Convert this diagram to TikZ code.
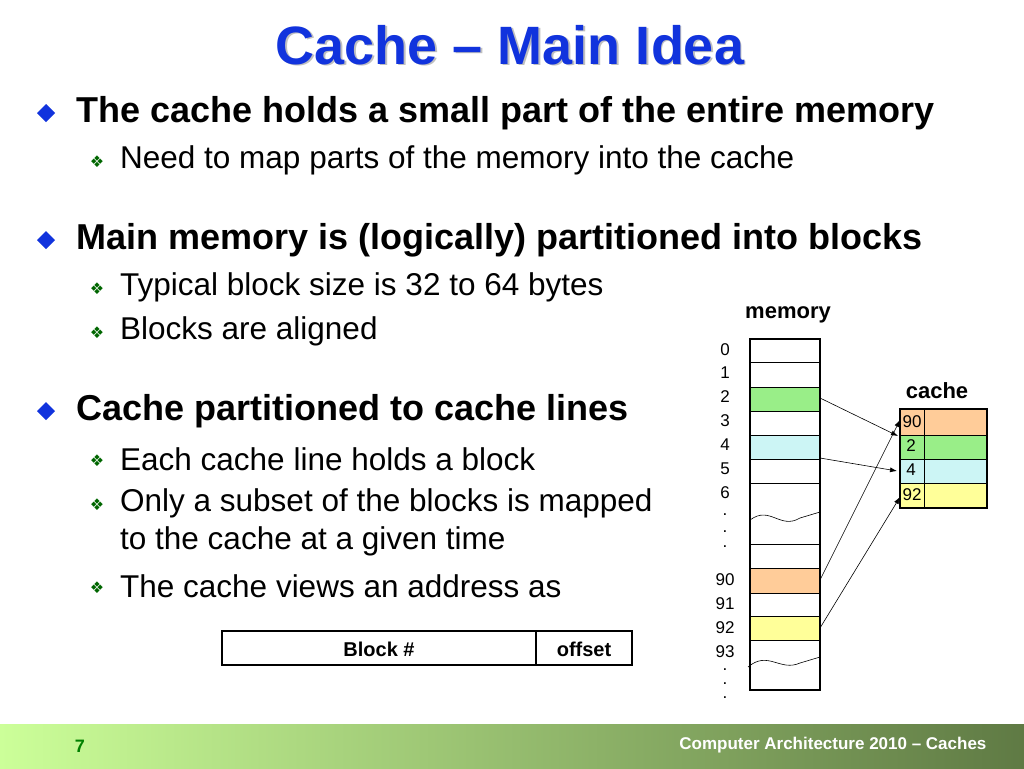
\documentclass[tikz,border=0pt]{standalone}
\usepackage{fontspec}
\usetikzlibrary{arrows.meta}
\setmainfont{Liberation Sans}
\newfontfamily\symfont{DejaVu Sans}
\begin{document}
\begin{tikzpicture}[x=1pt,y=-1pt,
  main/.style={anchor=west,inner sep=0pt,font=\fontsize{36}{38}\selectfont\bfseries},
  sub/.style={anchor=west,inner sep=0pt,font=\fontsize{31.5}{34}\selectfont},
  subb/.style={anchor=center,font=\symfont\fontsize{16}{17}\selectfont,text=green!40!black},
  num/.style={font=\fontsize{17}{18}\selectfont},
  dotn/.style={inner sep=0pt,font=\fontsize{17}{18}\selectfont},
  arr/.style={-{Latex[length=7pt,width=5pt]},line width=0.6pt}]
\useasboundingbox (0,0) rectangle (1024,768);
\definecolor{ora}{HTML}{FFCC99}\definecolor{gre}{HTML}{99EE88}
\definecolor{cya}{HTML}{CCF5F5}\definecolor{yel}{HTML}{FFFF99}
\definecolor{ttl}{HTML}{1133DD}
% title
\node[text=gray!50,font=\fontsize{54}{56}\selectfont\bfseries] at (511.5,46.5) {Cache – Main Idea};
\node[text=ttl,font=\fontsize{54}{56}\selectfont\bfseries] (title) at (510,45) {Cache – Main Idea};
% bullets
\foreach \y/\t in {113/The cache holds a small part of the entire memory,240/Main memory is (logically) partitioned into blocks,411/Cache partitioned to cache lines}{
  \fill[ttl] (46,\y-9) -- (55,\y) -- (46,\y+9) -- (37,\y) -- cycle;
  \node[main] at (76,\y) {\t};}
\foreach \y/\t in {160/Need to map parts of the memory into the cache,287/Typical block size is 32 to 64 bytes,331/Blocks are aligned,459/Each cache line holds a block,503/Only a subset of the blocks is mapped,586/The cache views an address as}{
  \node[subb] at (97,\y+2) {❖};
  \node[sub] at (120,\y) {\t};}
\node[sub] at (120,541) {to the cache at a given time};
% address box
\draw[line width=1.8pt] (222,631) rectangle (632,665);
\draw[line width=1.8pt] (536,631) -- (536,665);
\node[font=\fontsize{20}{22}\selectfont\bfseries] (blk) at (379,649) {Block \#};
\node[font=\fontsize{20}{22}\selectfont\bfseries] (off) at (584,649) {offset};
% memory
\node[font=\fontsize{22}{24}\selectfont\bfseries] (memlbl) at (788,315) {memory};
\fill[gre] (750,387) rectangle (820,411);
\fill[cya] (750,435) rectangle (820,459);
\fill[ora] (750,568) rectangle (820,593);
\fill[yel] (750,616) rectangle (820,640);
\foreach \y in {362,387,411,435,459,483,544,568,593,616,640}{\draw[line width=0.6pt] (750,\y) -- (820,\y);}
\draw[line width=0.6pt] (750,520) .. controls (770,505) and (780,530) .. (800,518) -- (820,512);
\draw[line width=0.6pt] (748,667) .. controls (768,650) and (780,672) .. (800,663) -- (820,657);
\draw[line width=2.2pt] (750,339) rectangle (820,690);
\coordinate (m2) at (820,398);\coordinate (m4) at (820,458);
\coordinate (m90) at (820,580);\coordinate (m92) at (820,628);
\foreach \y/\t in {350/0,373/1,397/2,421/3,445/4,469/5,493/6,580/90,604/91,628/92,652/93}{\node[num] at (725,\y) {\t};}
\foreach \y in {515,532,547,670,684,698}{\node[dotn] at (725,\y) {.};}
% cache
\node[font=\fontsize{22}{24}\selectfont\bfseries] (cachelbl) at (937,391) {cache};
\fill[ora] (900,409) rectangle (987,435);
\fill[gre] (900,435) rectangle (987,459);
\fill[cya] (900,459) rectangle (987,483);
\fill[yel] (900,483) rectangle (987,508);
\foreach \y in {435,459,483}{\draw[line width=0.6pt] (900,\y) -- (987,\y);}
\draw[line width=0.6pt] (924,409) -- (924,508);
\draw[line width=2.2pt] (900,409) rectangle (987,508);
\node[num] (c90) at (912,422) {90};
\node[num] (c2) at (911,446) {2};
\node[num] (c4) at (911,470) {4};
\node[num] (c92) at (912,495) {92};
\draw[arr] (m2) -- (898,436);
\draw[arr] (m4) -- (897,471);
\draw[arr] (m90) -- (900,420);
\draw[arr] (m92) -- (900,497);
% footer
\shade[left color={rgb,255:red,204;green,255;blue,153},right color={rgb,255:red,95;green,122;blue,68}] (0,724) rectangle (1024,768);
\node[text=green!50!black,font=\fontsize{18}{18}\selectfont\bfseries] (pg) at (80,746) {7};
\node[anchor=east,text=white,font=\fontsize{17}{18}\selectfont\bfseries] (ft) at (990,745) {Computer Architecture 2010 – Caches};
\end{tikzpicture}
\end{document}
